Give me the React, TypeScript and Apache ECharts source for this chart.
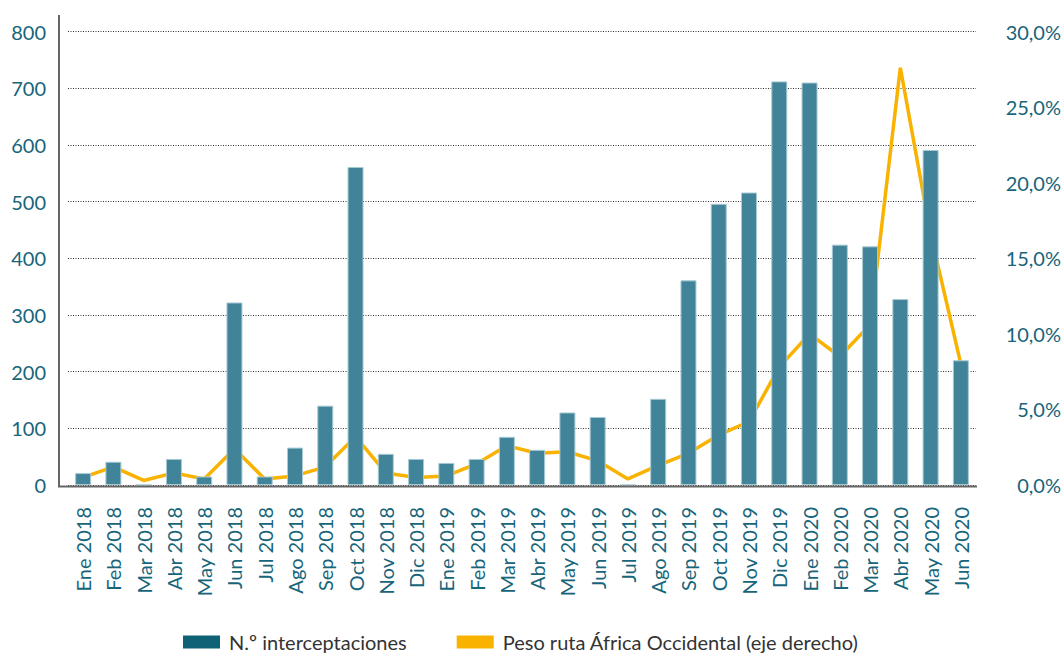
import React, { useEffect, useRef } from 'react';
import * as echarts from 'echarts';

const categories = [
  'Ene 2018', 'Feb 2018', 'Mar 2018', 'Abr 2018', 'May 2018', 'Jun 2018',
  'Jul 2018', 'Ago 2018', 'Sep 2018', 'Oct 2018', 'Nov 2018', 'Dic 2018',
  'Ene 2019', 'Feb 2019', 'Mar 2019', 'Abr 2019', 'May 2019', 'Jun 2019',
  'Jul 2019', 'Ago 2019', 'Sep 2019', 'Oct 2019', 'Nov 2019', 'Dic 2019',
  'Ene 2020', 'Feb 2020', 'Mar 2020', 'Abr 2020', 'May 2020', 'Jun 2020',
];

const interceptaciones = [
  21, 41, 0, 46, 15, 322, 15, 66, 140, 561, 55, 46,
  39, 46, 85, 62, 128, 120, 0, 152, 361, 496, 516, 712,
  710, 424, 421, 328, 591, 220,
];

// percent values (right axis)
const pesoRuta = [
  0.5, 1.2, 0.3, 0.8, 0.4, 2.4, 0.4, 0.6, 1.2, 3.2, 0.8, 0.5,
  0.6, 1.4, 2.6, 2.1, 2.2, 1.6, 0.4, 1.3, 2.1, 3.3, 4.2, 7.8,
  10.0, 8.5, 10.6, 27.6, 16.6, 8.0,
];

const barName = 'N.º interceptaciones';
const lineName = 'Peso ruta África Occidental (eje derecho)';

const leftAxis = { min: 0, max: 800, interval: 100 };
const rightAxis = { min: 0, max: 30, interval: 5 };

const TEAL_TEXT = '#17657a';
const BAR = '#41849a';
const BAR_LEGEND = '#0f6276';
const YELLOW = '#f9b200';

export default function App() {
  const ref = useRef<HTMLDivElement>(null);

  useEffect(() => {
    if (!ref.current) return;
    const chart = echarts.init(ref.current, undefined, { renderer: 'svg' });
    chart.setOption({
      animation: false,
      backgroundColor: '#ffffff',
      grid: { left: 68, right: 88, top: 31.5, bottom: 168, containLabel: false },
      legend: {
        left: 183,
        top: 632,
        padding: 0,
        itemWidth: 37,
        itemHeight: 13,
        itemGap: 50,
        textStyle: { fontFamily: 'Lato', fontSize: 20, color: '#333333', padding: [0, 0, 0, 4] },
        data: [
          { name: barName, icon: 'rect', itemStyle: { color: BAR_LEGEND, borderWidth: 0 } },
          { name: lineName, icon: 'rect', itemStyle: { color: YELLOW, borderWidth: 0 } },
        ],
      },
      xAxis: {
        type: 'category',
        data: categories,
        boundaryGap: true,
        axisLine: { show: false },
        axisTick: { show: false },
        axisLabel: {
          rotate: 90,
          interval: 0,
          margin: 22,
          fontFamily: 'Liberation Sans Narrow, Lato, sans-serif',
          fontSize: 20,
          color: TEAL_TEXT,
        },
      },
      yAxis: [
        {
          type: 'value',
          min: leftAxis.min,
          max: leftAxis.max,
          interval: leftAxis.interval,
          axisLine: { show: false },
          axisTick: { show: false },
          axisLabel: { margin: 22, fontFamily: 'Lato', fontSize: 20, color: TEAL_TEXT },
          splitLine: { show: true, lineStyle: { color: '#333333', width: 1, type: [1, 1.5] } },
        },
        {
          type: 'value',
          position: 'right',
          min: rightAxis.min,
          max: rightAxis.max,
          interval: rightAxis.interval,
          axisLine: { show: false },
          axisTick: { show: false },
          splitLine: { show: false },
          axisLabel: {
            margin: 85,
            align: 'right',
            fontFamily: 'Lato',
            fontSize: 20,
            color: TEAL_TEXT,
            formatter: (v: number) => v.toFixed(1).replace('.', ',') + '%',
          },
        },
      ],
      series: [
        {
          name: barName,
          type: 'bar',
          yAxisIndex: 0,
          data: interceptaciones,
          barWidth: 16,
          z: 3,
          itemStyle: { color: BAR, borderColor: '#a7cad3', borderWidth: 1 },
        },
        {
          name: lineName,
          type: 'line',
          yAxisIndex: 1,
          data: pesoRuta,
          z: 2,
          showSymbol: false,
          symbol: 'none',
          lineStyle: { color: YELLOW, width: 3.5 },
          itemStyle: { color: YELLOW },
        },
      ],
      graphic: [
        {
          type: 'line',
          shape: { x1: 59, y1: 15, x2: 59, y2: 487 },
          style: { stroke: '#666666', lineWidth: 2 },
          z: 10,
        },
        {
          type: 'line',
          shape: { x1: 58, y1: 486.5, x2: 977, y2: 486.5 },
          style: { stroke: '#666666', lineWidth: 2 },
          z: 10,
        },
      ],
    });
    return () => chart.dispose();
  }, []);

  return (
    <div
      ref={ref}
      style={{ position: 'fixed', left: 0, top: 0, width: 1064, height: 653, background: '#fff' }}
    />
  );
}
